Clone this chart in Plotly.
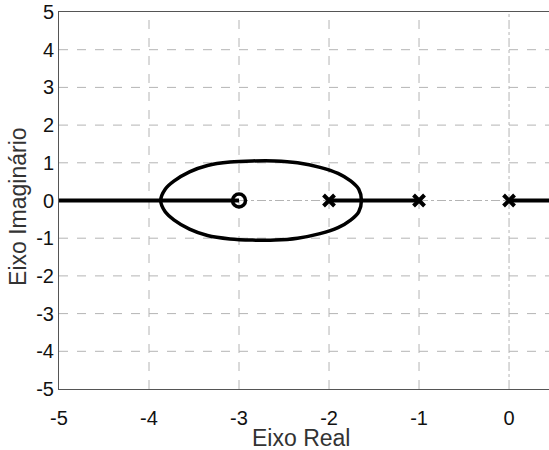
import plotly.graph_objects as go

# Poles and zeros
pole_x = [-2, -1, 0]
pole_y = [0, 0, 0]
zero_x = [-3]
zero_y = [0]

# Real-axis locus segments
seg_x = [-5, -3, None, -2, -1, None, 0, 0.5]
seg_y = [0, 0, None, 0, 0, None, 0, 0]

# Upper half of the breakaway loop; lower half is its mirror
loop_x = [-3.87, -3.82, -3.72, -3.55, -3.35, -3.10, -2.85, -2.60, -2.35, -2.10, -1.90, -1.76, -1.67, -1.64]
loop_y = [0.00, 0.30, 0.52, 0.76, 0.93, 1.02, 1.05, 1.05, 1.00, 0.88, 0.72, 0.52, 0.30, 0.00]

ticks_x = [-5, -4, -3, -2, -1, 0]
ticks_y = [-5, -4, -3, -2, -1, 0, 1, 2, 3, 4, 5]
x_range = [-5, 0.444]
y_range = [-5, 5]

full_x = loop_x + loop_x[::-1][1:]
full_y = loop_y + [-v for v in loop_y[::-1][1:]]

fig = go.Figure()

# grid lines as shapes
shapes = []
for t in ticks_x:
    if t == x_range[0]:
        continue
    shapes.append(dict(type="line", xref="x", yref="paper", x0=t, x1=t, y0=0, y1=1,
                       line=dict(color="#b4b4b4", width=1, dash="dashdot" if t == 0 else "dash"),
                       layer="below"))
for t in ticks_y:
    if t in (y_range[0], y_range[1]):
        continue
    shapes.append(dict(type="line", xref="paper", yref="y", x0=0, x1=1, y0=t, y1=t,
                       line=dict(color="#b4b4b4", width=1, dash="dashdot" if t == 0 else "dash"),
                       layer="below"))

fig.add_trace(go.Scatter(x=seg_x, y=seg_y, mode="lines",
                         line=dict(color="black", width=4), hoverinfo="skip"))
fig.add_trace(go.Scatter(x=full_x, y=full_y, mode="lines",
                         line=dict(color="black", width=3.5, shape="spline", smoothing=1.0),
                         hoverinfo="skip"))
fig.add_trace(go.Scatter(x=zero_x, y=zero_y, mode="markers",
                         marker=dict(symbol="circle-open", size=13, color="black",
                                     line=dict(width=3.5, color="black"))))
fig.add_trace(go.Scatter(x=pole_x, y=pole_y, mode="markers",
                         marker=dict(symbol="x-thin-open", size=11, color="black",
                                     line=dict(width=4, color="black"))))

font_family = "Liberation Sans, Arial, sans-serif"
fig.update_layout(
    width=549, height=450,
    margin=dict(l=59, r=0, t=12, b=61),
    paper_bgcolor="white", plot_bgcolor="white",
    showlegend=False,
    shapes=shapes,
    font=dict(family=font_family, size=20, color="black"),
    xaxis=dict(range=x_range, tickvals=ticks_x, ticktext=[str(t) for t in ticks_x],
               showgrid=False, zeroline=False, showline=True, linecolor="#555555",
               linewidth=1, mirror=True, ticks="", ticklabelstandoff=11,
               tickfont=dict(size=20, color="#111111")),
    yaxis=dict(range=y_range, tickvals=ticks_y, ticktext=[str(t) for t in ticks_y],
               showgrid=False, zeroline=False, showline=True, linecolor="#555555",
               linewidth=1, ticks="", ticklabeloverflow="allow",
               tickfont=dict(size=20, color="#111111")),
    annotations=[
        dict(text="Eixo Real", xref="paper", yref="paper", x=0.494, y=0, yshift=-49,
             showarrow=False, xanchor="center", yanchor="middle",
             font=dict(size=23, color="#333333")),
        dict(text="Eixo Imaginário", xref="paper", yref="paper", x=0, y=0.483, xshift=-41,
             showarrow=False, xanchor="center", yanchor="middle", textangle=-90,
             font=dict(size=23, color="#333333")),
    ],
)

fig.write_html("out.html", config={"displayModeBar": False},
               post_script="document.body.style.margin='0';")
